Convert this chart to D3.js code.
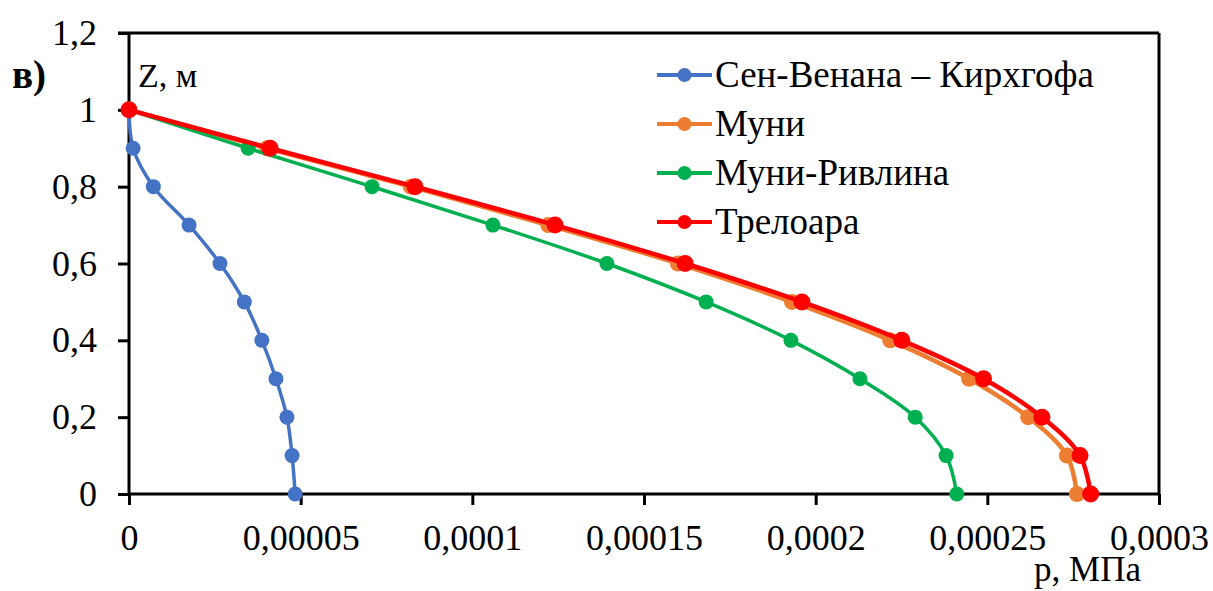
<!DOCTYPE html>
<html>
<head>
<meta charset="utf-8">
<script src="https://cdn.jsdelivr.net/npm/d3@7"></script>
<style>
  body { margin: 0; background: #fff; }
</style>
</head>
<body>
<div class="chart"></div>
<script>
// chart data
let zValues = [1, 0.9, 0.8, 0.7, 0.6, 0.5, 0.4, 0.3, 0.2, 0.1, 0];
let seriesNames = ["Сен-Венана – Кирхгофа", "Муни", "Муни-Ривлина", "Трелоара"];
let seriesColors = ["#4472c4", "#ed7d31", "#00b050", "#ff0000"];
let pKirchhoff = [0, 0.0000012, 0.0000071, 0.0000175, 0.0000265, 0.0000336, 0.0000387, 0.0000428, 0.000046, 0.0000475, 0.0000484];
let pMooney = [0, 0.0000402, 0.0000821, 0.0001221, 0.0001599, 0.0001931, 0.0002217, 0.0002447, 0.0002619, 0.0002732, 0.0002761];
let pMooneyRivlin = [0, 0.0000347, 0.0000708, 0.000106, 0.0001392, 0.0001681, 0.0001928, 0.0002129, 0.000229, 0.000238, 0.0002411];
let pTreloar = [0, 0.0000411, 0.0000833, 0.0001241, 0.000162, 0.000196, 0.0002251, 0.0002489, 0.0002659, 0.000277, 0.0002801];
let xTicks = [0, 0.00005, 0.0001, 0.00015, 0.0002, 0.00025, 0.0003];
let xTickLabels = ["0", "0,00005", "0,0001", "0,00015", "0,0002", "0,00025", "0,0003"];
let yTicks = [0, 0.2, 0.4, 0.6, 0.8, 1, 1.2];
let yTickLabels = ["0", "0,2", "0,4", "0,6", "0,8", "1", "1,2"];

let w = 1213
let h = 591
let serif = "'Liberation Serif', 'Times New Roman', Tinos, 'DejaVu Serif', serif";

let svg = d3.select(".chart")
            .append("svg")
            .attr("width", w)
            .attr("height", h)
            .attr("font-family", serif);

let x = d3.scaleLinear().domain([0, 0.0003]).range([129, 1159]);
let y = d3.scaleLinear().domain([0, 1.2]).range([494, 33]);

// frame: top and right lines
svg.append("line").attr("x1", 118).attr("x2", x(0.0003)).attr("y1", y(1.2)).attr("y2", y(1.2))
   .attr("stroke", "#000").attr("stroke-width", 3);
svg.append("line").attr("x1", x(0.0003)).attr("x2", x(0.0003)).attr("y1", y(1.2)).attr("y2", y(0))
   .attr("stroke", "#000").attr("stroke-width", 3);

let xAxis = d3.axisBottom(x).tickValues(xTicks)
  .tickFormat((d, i) => xTickLabels[i]).tickSize(11).tickPadding(19);
let yAxis = d3.axisLeft(y).tickValues(yTicks)
  .tickFormat((d, i) => yTickLabels[i]).tickSize(11).tickPadding(21);

let gx = svg.append("g").attr("transform", "translate(0," + y(0) + ")").call(xAxis);
let gy = svg.append("g").attr("transform", "translate(" + x(0) + ",0)").call(yAxis);
[gx, gy].forEach(g => {
  g.attr("font-family", serif).attr("font-size", 36);
  g.select(".domain").attr("stroke", "#000").attr("stroke-width", 3);
  g.selectAll(".tick line").attr("stroke", "#000").attr("stroke-width", 3);
  g.selectAll(".tick text").attr("fill", "#000");
});
gx.select(".domain").attr("d", "M" + x(0) + ",0H" + x(0.0003));
gy.select(".domain").attr("d", "M0," + y(1.2) + "V" + y(0));

// series
let allSeries = [pKirchhoff, pMooney, pMooneyRivlin, pTreloar];
let lineWidths = [3.5, 4.5, 3.5, 4.5];
let radii = [7.5, 8, 7.5, 8.5];
let line = d3.line().x(d => x(d[0])).y(d => y(d[1])).curve(d3.curveCatmullRom);

allSeries.forEach((vals, s) => {
  let pts = vals.map((p, i) => [p, zValues[i]]);
  svg.append("path").attr("d", line(pts)).attr("fill", "none")
     .attr("stroke", seriesColors[s]).attr("stroke-width", lineWidths[s]);
  svg.append("g").selectAll("circle").data(pts).enter().append("circle")
     .attr("cx", d => x(d[0])).attr("cy", d => y(d[1])).attr("r", radii[s])
     .attr("fill", seriesColors[s]);
});

// legend
let legend = svg.append("g").selectAll("g").data(seriesNames).enter().append("g")
  .attr("transform", (d, i) => "translate(0," + (75 + i * 49) + ")");
legend.append("line").attr("x1", 657).attr("x2", 712).attr("y1", 0).attr("y2", 0)
  .attr("stroke", (d, i) => seriesColors[i]).attr("stroke-width", 4);
legend.append("circle").attr("cx", 684.5).attr("cy", 0).attr("r", 7)
  .attr("fill", (d, i) => seriesColors[i]);
legend.append("text").attr("x", 715).attr("y", 12).attr("font-size", 37).text(d => d);

// axis titles and panel letter
svg.append("text").attr("x", 138).attr("y", 87).attr("font-size", 34).text("Z, м");
svg.append("text").attr("x", 1141).attr("y", 581).attr("text-anchor", "end").attr("font-size", 35).text("p, МПа");
svg.append("text").attr("x", 12).attr("y", 88).attr("font-size", 39).attr("font-weight", "bold").text("в)");
</script>
</body>
</html>
